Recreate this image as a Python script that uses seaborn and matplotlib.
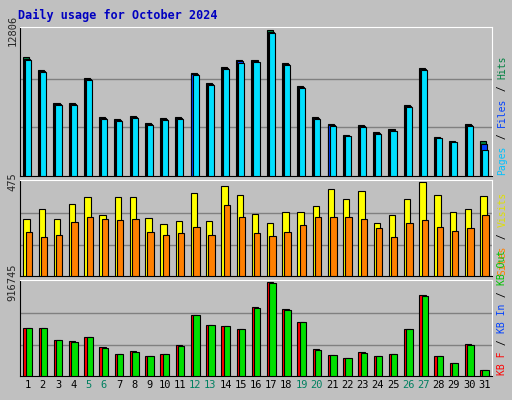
import numpy as np
import matplotlib
matplotlib.use("Agg")
import matplotlib.pyplot as plt
import seaborn as sns

sns.set_style("white")
plt.rcParams['font.family'] = ['DejaVu Sans Mono', 'DejaVu Sans']

days = list(range(1, 32))
weekend_days = [5, 6, 12, 13, 19, 20, 26, 27]
hits = [10438, 9297, 6403, 6403, 8596, 5175, 5000, 5263, 4649, 5087, 5175, 9034, 8157, 9560, 10174, 10174,
        12806, 9911, 7894, 5175, 4561, 3596, 4473, 3859, 4122, 6227, 9473, 3421, 3070, 4561, 3070]
files = [10300, 9180, 6320, 6320, 8480, 5100, 4930, 5190, 4580, 5020, 5100, 8920, 8050, 9440, 10050, 10050,
         12650, 9790, 7790, 5100, 4490, 3530, 4400, 3790, 4050, 6140, 9360, 3360, 3010, 4490, 2800]
pages = [10200, 9100, 6250, 6250, 8400, 5020, 4860, 5120, 4510, 4950, 5030, 8830, 7960, 9350, 9950, 9960,
         12550, 9700, 7700, 5020, 4420, 3470, 4330, 3720, 3980, 6060, 9270, 3300, 2950, 4420, 2280]
visits = [289, 336, 289, 361, 398, 310, 398, 398, 294, 263, 279, 418, 279, 454, 408, 315,
          268, 325, 325, 351, 439, 387, 429, 268, 310, 387, 475, 408, 325, 336, 403]
sites = [222, 196, 207, 274, 299, 289, 284, 289, 222, 207, 217, 248, 207, 356, 299, 217,
         201, 222, 258, 299, 299, 299, 289, 243, 196, 268, 284, 248, 227, 243, 310]
kb_f = [468000, 468000, 349000, 339000, 379000, 279000, 219000, 239000, 199000, 219000, 299000, 598000,
        498000, 488000, 458000, 668000, 916745, 648000, 528000, 259000, 209000, 179000, 229000, 199000,
        219000, 458000, 787000, 199000, 130000, 309000, 60000]
kb_out = [465000, 465000, 346000, 336000, 376000, 276000, 216000, 236000, 196000, 216000, 296000, 594000,
          494000, 484000, 454000, 664000, 910000, 644000, 524000, 256000, 206000, 176000, 226000, 196000,
          216000, 454000, 782000, 196000, 127000, 306000, 57000]

BG = "#C0C0C0"
fig = plt.figure(figsize=(5.12, 4.0), dpi=100, facecolor=BG)
d = np.array(days, dtype=float)
CH = 0.0150  # char advance for fs 7 monospace in fig fraction (vertical)

def panel(rect, series, ymax, label, label_parts):
    ax = fig.add_axes(rect)
    ax.set_facecolor(BG)
    for vals, col, off, w in series:
        sns.barplot(x=d + off, y=vals, native_scale=True, color=col, width=w,
                    edgecolor="black", linewidth=0.8, saturation=1, ax=ax, zorder=3)
    ax.set_xlim(0.5, 31.5)
    ax.set_ylim(0, ymax * 1.02)
    for fr in (1/3, 2/3):
        ax.axhline(ymax * fr, color="#808080", lw=1, zorder=1)
    ax.set_yticks([ymax])
    ax.set_yticklabels([label], rotation=90, va="center", fontsize=7.5)
    ax.tick_params(axis='y', length=0, pad=2)
    ax.set_xticks([])
    ax.set_xlabel(""); ax.set_ylabel("")
    for s in ["top", "right"]:
        ax.spines[s].set_color("white")
    for s in ["left", "bottom"]:
        ax.spines[s].set_color("black")
    ypos = rect[1] + 0.003
    x = rect[0] + rect[2] + 0.02
    for txt, col in label_parts:
        fig.text(x, ypos, txt, rotation=90, color=col, fontsize=7, ha="center", va="bottom")
        ypos += len(txt) * CH
    return ax

l, w = 20/512, 472/512
panel([l, 1-176/400, w, 149/400],
      [(hits, "#008040", -0.1, 0.4), (files, "#0040FF", -0.04, 0.4), (pages, "#00E0FF", 0.03, 0.4)],
      12806, "12806",
      [("Pages", "#00C0FF"), (" / ", "black"), ("Files", "#0040FF"), (" / ", "black"), ("Hits", "#008040")])
panel([l, 1-276/400, w, 96/400],
      [(visits, "#FFFF00", -0.07, 0.42), (sites, "#FF8000", 0.08, 0.42)],
      475, "475",
      [("Sites", "#FF8000"), (" / ", "black"), ("Visits", "#E0E000")])
ax3 = panel([l, 1-376/400, w, 96/400],
      [(kb_f, "#FF0000", -0.07, 0.42), (kb_out, "#00E000", 0.08, 0.42)],
      916745, "916745",
      [("KB F", "#FF0000"), (" / ", "black"), ("KB In", "#0040FF"), (" / ", "black"), ("KB Out", "#00C000")])
ax3.set_xticks(days)
ax3.set_xticklabels([str(x) for x in days], fontsize=7.5)
ax3.tick_params(axis='x', length=0, pad=3)
for t, dd in zip(ax3.get_xticklabels(), days):
    t.set_color("#008060" if dd in weekend_days else "black")

fig.text(18/512, 1-15/400, "Daily usage for October 2024", color="#0000C0",
         fontsize=8.5, fontweight="bold", va="center")
fig.savefig("out.png", dpi=100, facecolor=BG)
